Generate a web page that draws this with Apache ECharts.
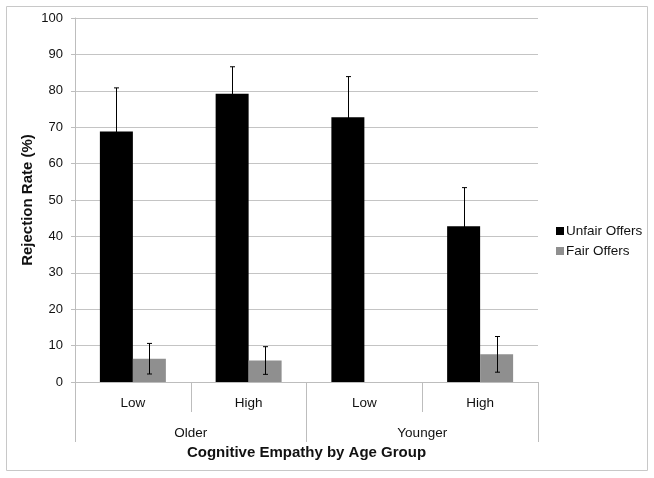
<!DOCTYPE html>
<html>
<head>
<meta charset="utf-8">
<script src="https://cdn.jsdelivr.net/npm/echarts@6/dist/echarts.min.js"></script>
<style>html,body{margin:0;padding:0;background:#fff;}#c{width:654px;height:478px;}</style>
</head>
<body>
<div id="c"></div>
<script>
var categories = ['Low', 'High', 'Low', 'High'];
var groups = ['Older', 'Younger'];
var unfair = [68.8, 79.2, 72.7, 42.8];
var unfairErr = [12.0, 7.4, 11.2, 10.6];
var fair = [6.4, 5.9, 0, 7.6];
var fairErr = [4.2, 3.8, 0, 4.9];
var yTicks = [0, 10, 20, 30, 40, 50, 60, 70, 80, 90, 100];

var BAR_FRAC = 0.285;
var font = '"Liberation Sans", Arial, sans-serif';

function errSeries(vals, errs, side) {
  return {
    type: 'custom',
    xAxisIndex: 0,
    yAxisIndex: 0,
    silent: true,
    z: 5,
    data: vals.map(function (v, i) { return [i, v, errs[i]]; }),
    renderItem: function (params, api) {
      var idx = api.value(0), v = api.value(1), e = api.value(2);
      if (!e) return null;
      var w = api.size([1, 0])[0] * BAR_FRAC;
      var x = api.coord([idx, v])[0] + side * w / 2;
      var yTop = api.coord([idx, v + e])[1];
      var yBot = api.coord([idx, Math.max(0, v - e)])[1];
      var style = { stroke: '#000', lineWidth: 1 };
      x = Math.round(x) + 0.5;
      return {
        type: 'group',
        children: [
          { type: 'line', shape: { x1: x, y1: yTop, x2: x, y2: yBot }, style: style },
          { type: 'line', shape: { x1: x - 2.5, y1: yTop, x2: x + 2.5, y2: yTop }, style: style },
          { type: 'line', shape: { x1: x - 2.5, y1: yBot, x2: x + 2.5, y2: yBot }, style: style }
        ]
      };
    }
  };
}

var chart = echarts.init(document.getElementById('c'));
chart.setOption({
  animation: false,
  textStyle: { fontFamily: font },
  graphic: [{
    type: 'rect',
    shape: { x: 6.5, y: 6.5, width: 641, height: 464 },
    style: { fill: 'none', stroke: '#c8c8c8', lineWidth: 1 }
  }],
  grid: { left: 75, right: 116, top: 18, bottom: 96 },
  legend: {
    orient: 'vertical',
    left: 551,
    top: 219,
    itemWidth: 8,
    itemHeight: 8,
    itemGap: 6,
    icon: 'rect',
    textStyle: { fontFamily: font, fontSize: 13.5, color: '#111', padding: [0, 0, 0, -3] },
    data: ['Unfair Offers', 'Fair Offers']
  },
  xAxis: [{
    type: 'category',
    data: categories,
    axisLine: { show: true, lineStyle: { color: '#bdbdbd' } },
    axisTick: { show: true, length: 30, interval: 0, lineStyle: { color: '#bdbdbd' } },
    axisLabel: { margin: 14, fontSize: 13.5, color: '#111', fontFamily: font, interval: 0 }
  }, {
    type: 'category',
    data: groups,
    position: 'bottom',
    axisLine: { show: false },
    axisTick: { show: true, length: 60, interval: 0, lineStyle: { color: '#bdbdbd' } },
    axisLabel: { margin: 44, fontSize: 13.5, color: '#111', fontFamily: font },
    name: 'Cognitive Empathy by Age Group',
    nameLocation: 'middle',
    nameGap: 63,
    nameMoveOverlap: false,
    nameTextStyle: { fontSize: 15, fontWeight: 'bold', color: '#111', fontFamily: font }
  }],
  yAxis: {
    type: 'value',
    min: 0,
    max: 100,
    interval: 10,
    axisLine: { show: true, lineStyle: { color: '#bdbdbd' } },
    axisTick: { show: true, length: 4, lineStyle: { color: '#bdbdbd' } },
    splitLine: { lineStyle: { color: '#c4c4c4' } },
    axisLabel: {
      margin: 12, fontSize: 13, color: '#111', fontFamily: font,
      formatter: function (v) { return yTicks.indexOf(v) >= 0 ? String(v) : ''; }
    },
    name: 'Rejection Rate (%)',
    nameLocation: 'middle',
    nameGap: 40,
    nameMoveOverlap: false,
    nameTextStyle: { fontSize: 15, fontWeight: 'bold', color: '#111', fontFamily: font }
  },
  series: [{
    name: 'Unfair Offers',
    type: 'bar',
    data: unfair,
    barWidth: (BAR_FRAC * 100) + '%',
    barGap: '0%',
    itemStyle: { color: '#000' }
  }, {
    name: 'Fair Offers',
    type: 'bar',
    data: fair,
    barWidth: (BAR_FRAC * 100) + '%',
    barGap: '0%',
    itemStyle: { color: '#8f8f8f' }
  },
  errSeries(unfair, unfairErr, -1),
  errSeries(fair, fairErr, 1)
  ]
});
</script>
</body>
</html>
